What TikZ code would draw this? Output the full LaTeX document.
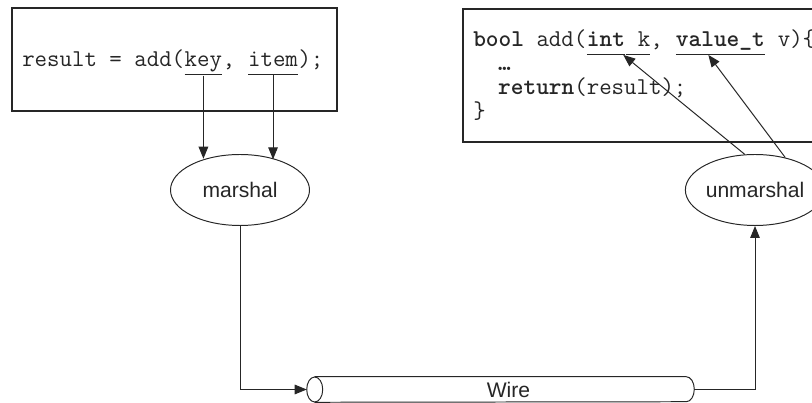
\documentclass[tikz,border=0pt]{standalone}
\usepackage{fontspec}
\setmainfont{Liberation Sans}
\usetikzlibrary{arrows.meta,positioning,calc,shapes.geometric}
\definecolor{inkgrey}{HTML}{262626}
\newcommand{\px}{0.25mm}
\newcommand{\codeul}[1]{\underline{#1\vphantom{\_}}}
\tikzset{
  codebox/.style={draw=inkgrey, line width=0.95pt, fill=white, inner sep=0pt},
  code/.style={font=\ttfamily\fontsize{17.2}{20}\selectfont, inner sep=0pt,
               anchor=base west, text=inkgrey},
  stub/.style={ellipse, draw=inkgrey, line width=0.7pt, minimum width=139*\px,
               minimum height=71*\px, inner sep=0pt, text=inkgrey,
               font=\fontsize{15}{18}\selectfont},
  pipe/.style={line width=0.7pt, draw=inkgrey},
  flow/.style={-{Triangle[length=3mm,width=2.4mm]}, line width=0.7pt,
               draw=inkgrey},
}

\begin{document}
\begin{tikzpicture}[x=\px, y=-\px]
\useasboundingbox (0,0) rectangle (812,403);
\clip (0,0) rectangle (812,403);

% ---------------- caller ---------------------------------------------------
\node[codebox, minimum width=325*\px, minimum height=103*\px] (callbox)
  at (174.5,59.5) {};
\node[code] (call) at (22,67) {result = add(};
\node[code] (key) at (call.base east) {\codeul{key}};
\node[code] (comma) at (key.base east) {,\ \null};
\node[code] (item) at (comma.base east) {\codeul{item}};
\node[code] (close) at (item.base east) {);};

% ---------------- callee ---------------------------------------------------
\node[codebox, minimum width=370*\px, minimum height=133*\px] (defbox)
  at (648,75.5) {};
\node[code] (sig) at (473,47) {\textbf{bool} add(};
\node[code] (int) at (sig.base east) {\codeul{\textbf{int}}};
\node[code] (argk) at (int.base east) {\codeul{\ k},\ \null};
\node[code] (value) at (argk.base east) {\codeul{\textbf{value\_t}}};
\node[code] (argv) at (value.base east) {\ v)\{};
\node[code] (dots) at (473,71) {\ \ \textbf{…}};
\node[code] (ret) at (473,95) {\ \ \textbf{return}(result);};
\node[code] (brace) at (473,119) {\}};

% ---------------- stubs and wire -------------------------------------------
\node[stub] (marshal) at (240,190) {marshal};
\node[stub] (unmarshal) at (755,190) {unmarshal};
% wire: node is the body right of the front face
\node[minimum width=371*\px, minimum height=25*\px, inner sep=0pt,
      text=inkgrey, font=\fontsize{15}{18}\selectfont] (wire)
  at (508.5,389.5) {Wire};
\draw[pipe] ([xshift=-2mm]wire.north west) -- ([xshift=-2mm]wire.north east)
  arc[start angle=90, end angle=-90, x radius=2mm, y radius=12.5*\px]
  -- ([xshift=-2mm]wire.south west);
\draw[pipe] ([xshift=-2mm]wire.west) ellipse[x radius=2mm, y radius=12.5*\px];

% ---------------- connectors -----------------------------------------------
\draw[flow] (key.south) -- (key.south |- marshal.138);
\draw[flow] (item.south) -- (item.south |- marshal.40);
\draw[flow] (marshal.south) |- ([xshift=-4mm]wire.west);
\draw[flow] (wire.east) -| (unmarshal.south);
\draw[flow] (unmarshal.106) -- ([xshift=-0.5mm]int.south east);
\draw[flow] (unmarshal.47) -- ([xshift=-3mm]value.south);
\end{tikzpicture}
\end{document}
